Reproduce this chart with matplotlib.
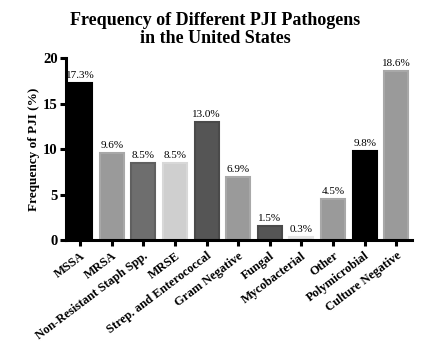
import numpy as np
import matplotlib
matplotlib.use("Agg")
import matplotlib.pyplot as plt

plt.rcParams['font.family'] = ['Liberation Serif', 'DejaVu Serif']

# data
pathogens = ['MSSA', 'MRSA', 'Non-Resistant Staph Spp.', 'MRSE',
             'Strep. and Enterococcal', 'Gram Negative', 'Fungal',
             'Mycobacterial', 'Other', 'Polymicrobial', 'Culture Negative']
freq = [17.3, 9.6, 8.5, 8.5, 13.0, 6.9, 1.5, 0.3, 4.5, 9.8, 18.6]
bar_labels = ['17.3%', '9.6%', '8.5%', '8.5%', '13.0%', '6.9%', '1.5%',
              '0.3%', '4.5%', '9.8%', '18.6%']
fills = ['#000000', '#9a9a9a', '#6e6e6e', '#cfcfcf', '#555555', '#9a9a9a',
         '#555555', '#dedede', '#9a9a9a', '#000000', '#9a9a9a']
edges = ['#000000', '#a8a8a8', '#606060', '#d8d8d8', '#4a4a4a', '#a8a8a8',
         '#4a4a4a', '#e6e6e6', '#a8a8a8', '#000000', '#a8a8a8']

fig = plt.figure(figsize=(4.31, 3.46), dpi=100)
ax = fig.add_axes([0.153, 0.306, 0.803, 0.526])

x = np.arange(len(pathogens))
bars = ax.bar(x, freq, width=0.76, color=fills, edgecolor=edges, linewidth=1.5)
for b, lab in zip(bars, bar_labels):
    ax.text(b.get_x() + b.get_width() / 2, b.get_height() + 0.35, lab,
            ha='center', va='bottom', fontsize=8)

ax.set_xlim(-0.45, 10.5)
ax.set_ylim(0, 20)
ax.set_yticks([0, 5, 10, 15, 20])
ax.set_xticks(x)
ax.set_xticklabels(pathogens, rotation=37, ha='right', rotation_mode='anchor',
                   fontsize=9, fontweight='bold')
for t in ax.get_yticklabels():
    t.set_fontweight('bold')
    t.set_fontsize(10.5)
ax.set_ylabel('Frequency of PJI (%)', fontsize=9.5, fontweight='bold', labelpad=2)

ax.spines['top'].set_visible(False)
ax.spines['right'].set_visible(False)
ax.spines['left'].set_linewidth(2.2)
ax.spines['bottom'].set_linewidth(2.2)
ax.tick_params(width=2.2, length=4, pad=2)
ax.tick_params(axis='x', pad=3)

fig.suptitle('Frequency of Different PJI Pathogens\nin the United States',
             x=0.5, y=0.965, fontsize=13, fontweight='bold', linespacing=1.05)

fig.savefig('out.png', dpi=100)
